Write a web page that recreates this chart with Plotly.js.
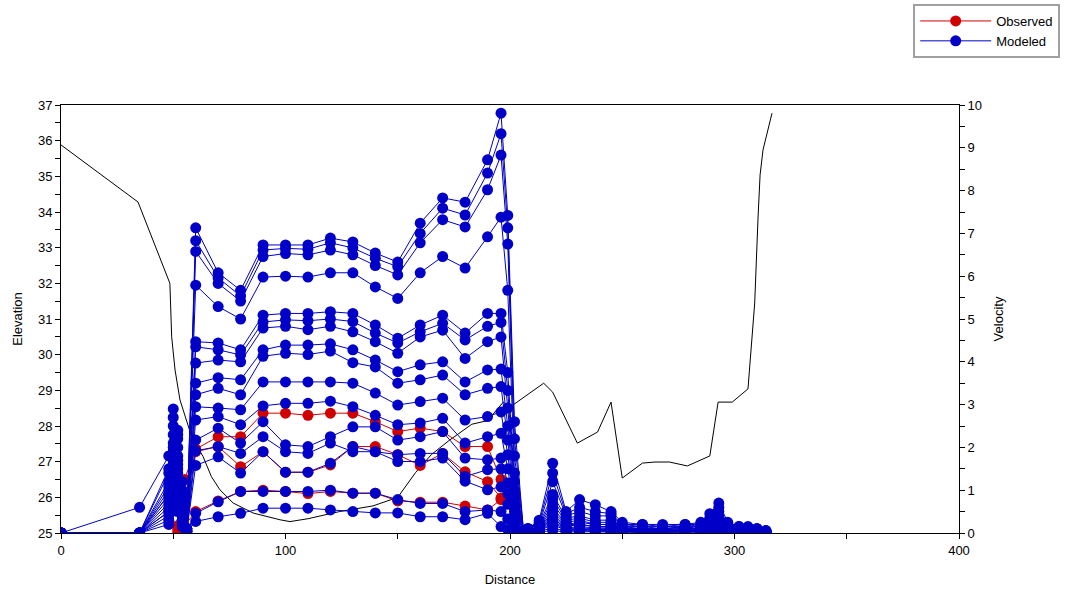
<!DOCTYPE html>
<html>
<head>
<meta charset="utf-8">
<script src="https://cdn.plot.ly/plotly-3.0.1.min.js"></script>
<style>
  html, body { margin: 0; padding: 0; background: #fff; }
  #chart { width: 1065px; height: 592px; }
</style>
</head>
<body>
<div id="chart"></div>
<script>
// cross-section stations (distance) shared by the modeled velocity profiles
const stations = [0, 35, 48, 50, 52, 54, 56, 60, 70, 80, 90, 100, 110, 120, 130, 140, 150, 160, 170, 180, 190, 196, 199,
    202, 206, 208, 213, 219, 225, 231, 238, 245, 250, 259, 268, 278, 285, 289, 293, 297, 302, 306, 310, 314];

// modeled velocities, one array per profile (right axis)
const vel01 = [0, 0.6, 1.8, 2.9, 2.4, 1.2, 0.1, 7.13, 6.08, 5.67, 6.73, 6.73, 6.73, 6.89, 6.80, 6.54, 6.33, 7.24, 7.83, 7.73, 8.72, 9.81, 7.42,
    2.6, 0.05, 0.1, 0.3, 1.63, 0.5, 0.78, 0.66, 0.5, 0.25, 0.2, 0.2, 0.2, 0.25, 0.45, 0.7, 0.25, 0.15, 0.15, 0.1, 0.05];
const vel02 = [0, 0, 1.5, 2.7, 2.3, 1.0, 0.1, 6.83, 5.96, 5.54, 6.61, 6.65, 6.63, 6.78, 6.66, 6.42, 6.22, 7.0, 7.59, 7.43, 8.41, 9.33, 7.13,
    2.2, 0.05, 0.1, 0.25, 1.4, 0.45, 0.6, 0.5, 0.45, 0.2, 0.2, 0.15, 0.2, 0.2, 0.35, 0.6, 0.2, 0.15, 0.1, 0.1, 0.05];
const vel03 = [0, 0, 1.4, 2.5, 2.2, 0.9, 0.1, 6.58, 5.83, 5.42, 6.46, 6.53, 6.5, 6.61, 6.5, 6.25, 6.03, 6.78, 7.32, 7.15, 8.02, 8.83, 6.75,
    1.8, 0.05, 0.1, 0.2, 1.2, 0.4, 0.5, 0.4, 0.4, 0.2, 0.15, 0.15, 0.15, 0.2, 0.3, 0.5, 0.2, 0.1, 0.1, 0.1, 0.05];
const vel04 = [0, 0, 1.2, 2.3, 2.0, 0.8, 0.1, 5.79, 5.29, 5.0, 5.98, 6.0, 5.98, 6.08, 6.08, 5.75, 5.48, 6.08, 6.46, 6.19, 6.92, 7.38, 5.67,
    1.4, 0.05, 0.1, 0.2, 0.9, 0.35, 0.4, 0.3, 0.3, 0.15, 0.15, 0.1, 0.15, 0.15, 0.25, 0.4, 0.15, 0.1, 0.1, 0.05, 0.05];
const vel05 = [0, 0, 1.1, 2.1, 1.8, 0.7, 0.1, 4.47, 4.44, 4.28, 5.09, 5.13, 5.13, 5.17, 5.13, 4.86, 4.55, 4.86, 5.09, 4.67, 5.13, 5.13, 3.75,
    1.2, 0.05, 0.05, 0.15, 0.8, 0.3, 0.35, 0.25, 0.25, 0.15, 0.1, 0.1, 0.15, 0.1, 0.2, 0.35, 0.15, 0.1, 0.05, 0.05, 0.02];
const vel06 = [0, 0, 1.0, 2.0, 1.7, 0.6, 0.1, 4.35, 4.28, 4.16, 4.93, 4.98, 4.96, 5.0, 4.94, 4.67, 4.44, 4.7, 4.9, 4.51, 4.83, 4.92, 3.33,
    1.0, 0.05, 0.05, 0.12, 0.7, 0.25, 0.3, 0.2, 0.2, 0.12, 0.1, 0.1, 0.1, 0.1, 0.15, 0.3, 0.12, 0.08, 0.05, 0.05, 0.02];
const vel07 = [0, 0, 0.9, 1.9, 1.6, 0.6, 0.1, 3.97, 4.04, 4.0, 4.79, 4.83, 4.75, 4.83, 4.7, 4.47, 4.2, 4.58, 4.74, 4.08, 4.47, 4.58, 2.92,
    0.9, 0.05, 0.05, 0.1, 0.6, 0.2, 0.25, 0.2, 0.2, 0.1, 0.1, 0.08, 0.1, 0.1, 0.12, 0.25, 0.1, 0.08, 0.05, 0.05, 0.02];
const vel08 = [0, 0, 0.9, 1.8, 1.5, 0.5, 0.05, 3.5, 3.63, 3.58, 4.28, 4.39, 4.39, 4.42, 4.28, 4.04, 3.77, 3.93, 4.0, 3.53, 3.81, 3.83, 2.5,
    0.8, 0.05, 0.05, 0.1, 0.5, 0.2, 0.2, 0.15, 0.15, 0.1, 0.08, 0.08, 0.1, 0.08, 0.1, 0.2, 0.1, 0.05, 0.05, 0.03, 0.02];
const vel09 = [0, 0, 0.8, 1.7, 1.4, 0.5, 0.05, 3.23, 3.38, 3.23, 4.13, 4.2, 4.17, 4.25, 3.98, 3.88, 3.5, 3.58, 3.69, 3.23, 3.38, 3.42, 2.17,
    0.7, 0.05, 0.05, 0.08, 0.45, 0.15, 0.2, 0.15, 0.15, 0.08, 0.08, 0.06, 0.08, 0.08, 0.1, 0.18, 0.08, 0.05, 0.04, 0.03, 0.02];
const vel10 = [0, 0, 0.7, 1.6, 1.3, 0.4, 0.05, 2.95, 2.92, 2.88, 3.53, 3.53, 3.53, 3.53, 3.5, 3.27, 2.99, 3.07, 3.15, 2.64, 2.72, 2.83, 1.83,
    0.6, 0.05, 0.04, 0.08, 0.4, 0.12, 0.15, 0.12, 0.12, 0.08, 0.06, 0.06, 0.07, 0.06, 0.08, 0.15, 0.07, 0.04, 0.04, 0.03, 0.02];
const vel11 = [0, 0, 0.6, 1.5, 1.2, 0.4, 0.05, 2.64, 2.72, 2.53, 2.97, 3.03, 3.03, 3.08, 2.95, 2.75, 2.53, 2.57, 2.68, 2.1, 2.25, 2.33, 1.5,
    0.5, 0.04, 0.04, 0.07, 0.35, 0.1, 0.12, 0.1, 0.1, 0.06, 0.05, 0.05, 0.06, 0.05, 0.07, 0.12, 0.06, 0.04, 0.03, 0.02, 0.02];
const vel12 = [0, 0, 0.5, 1.3, 1.1, 0.3, 0.05, 2.17, 2.45, 2.1, 2.6, 2.06, 2.02, 2.25, 2.48, 2.48, 2.17, 2.25, 2.37, 1.75, 1.71, 1.75, 1.17,
    0.4, 0.04, 0.03, 0.06, 0.3, 0.08, 0.1, 0.08, 0.08, 0.05, 0.04, 0.04, 0.05, 0.04, 0.06, 0.1, 0.05, 0.03, 0.03, 0.02, 0.01];
const vel13 = [0, 0, 0.5, 1.2, 1.0, 0.3, 0.04, 1.92, 2.02, 1.86, 2.25, 1.9, 1.86, 2.1, 1.9, 1.9, 1.83, 1.86, 1.86, 1.32, 1.48, 1.5, 0.92,
    0.35, 0.03, 0.03, 0.05, 0.25, 0.07, 0.08, 0.07, 0.07, 0.04, 0.04, 0.03, 0.04, 0.04, 0.05, 0.08, 0.04, 0.03, 0.02, 0.02, 0.01];
const vel14 = [0, 0, 0.4, 1.1, 0.9, 0.25, 0.04, 1.58, 1.78, 1.4, 1.9, 1.42, 1.42, 1.63, 2.02, 1.9, 1.67, 1.67, 1.75, 1.21, 1.01, 1.08, 0.67,
    0.3, 0.03, 0.03, 0.05, 0.2, 0.06, 0.07, 0.06, 0.06, 0.04, 0.03, 0.03, 0.04, 0.03, 0.04, 0.07, 0.04, 0.02, 0.02, 0.02, 0.01];
const vel15 = [0, 0, 0.3, 0.8, 0.6, 0.2, 0.03, 0.46, 0.73, 0.97, 0.97, 0.97, 0.97, 1.0, 0.93, 0.93, 0.78, 0.69, 0.69, 0.5, 0.54, 0.5, 0.33,
    0.2, 0.02, 0.02, 0.04, 0.12, 0.04, 0.05, 0.04, 0.04, 0.03, 0.02, 0.02, 0.03, 0.02, 0.03, 0.05, 0.03, 0.02, 0.01, 0.01, 0.01];
const vel16 = [0, 0, 0.2, 0.6, 0.5, 0.15, 0.02, 0.27, 0.38, 0.46, 0.58, 0.58, 0.58, 0.54, 0.5, 0.47, 0.47, 0.38, 0.38, 0.31, 0.46, 0.15, 0.08,
    0.05, 0.01, 0.01, 0.02, 0.06, 0.02, 0.03, 0.02, 0.02, 0.02, 0.01, 0.01, 0.02, 0.01, 0.02, 0.03, 0.02, 0.01, 0.01, 0.01, 0];

// observed velocities (right axis)
const obsStations = [52, 55, 60, 70, 80, 90, 100, 110, 120, 130, 140, 150, 160, 170, 180, 190, 196, 199];
const obsVel1 = [0.17, 1.25, 1.96, 2.25, 2.25, 2.8, 2.8, 2.75, 2.8, 2.8, 2.6, 2.37, 2.45, 2.37, 2.02, 2.02, 1.25, 0.79];
const obsVel2 = [0.08, 0.83, 1.9, 2.02, 1.55, 1.9, 1.42, 1.42, 1.59, 2.02, 2.02, 1.83, 1.58, 1.86, 1.43, 1.2, 0.82, 0.71];
const obsVel3 = [0, 0.17, 0.5, 0.75, 0.97, 1.0, 0.97, 0.92, 0.97, 0.93, 0.93, 0.75, 0.72, 0.72, 0.63, 0.54, 0.78, 0.75];

// channel bed profile (left axis)
const groundX = [0, 34.3, 48.5, 49.3, 50.8, 53, 58.2, 63.3, 67, 70.8, 76.7, 85.6, 97.6, 102, 110, 124, 139, 150, 158, 165,
    173, 183, 190, 197, 200, 215, 219, 230, 239, 245, 250, 259, 264.6, 271, 279, 289, 292.7, 299, 306, 307.8,
    309, 310.5, 311.4, 312.7, 316.7];
const groundElev = [35.88, 34.28, 32.0, 30.5, 29.57, 28.73, 27.7, 27.14, 26.58, 26.21, 25.84, 25.56, 25.37, 25.32, 25.4, 25.6, 25.76, 26.0, 26.7, 27.2,
    27.6, 28.05, 28.15, 28.67, 28.53, 29.2, 28.95, 27.52, 27.83, 28.67, 26.54, 26.96, 26.99, 26.99, 26.88, 27.16, 28.67, 28.67, 29.04, 30.4,
    31.45, 33.86, 35.04, 35.74, 36.77];

const modeledRuns = [vel01, vel02, vel03, vel04, vel05, vel06, vel07, vel08, vel09, vel10, vel11, vel12, vel13, vel14, vel15, vel16];
const observedRuns = [obsVel1, obsVel2, obsVel3];

const RED = '#d00000';
const BLUE = '#0000c8';
const FONT = 'Liberation Sans, Arial, sans-serif';

const observedTraces = observedRuns.map((v, i) => ({
    x: obsStations, y: v, yaxis: 'y2',
    mode: 'lines+markers', name: 'Observed', legendgroup: 'obs', showlegend: i === 0,
    line: { color: RED, width: 1 },
    marker: { color: RED, size: 11, symbol: 'circle' },
    hoverinfo: 'skip'
}));

const modeledTraces = modeledRuns.map((v, i) => ({
    x: stations, y: v, yaxis: 'y2',
    mode: 'lines+markers', name: 'Modeled', legendgroup: 'mod', showlegend: i === 0,
    line: { color: BLUE, width: 1 },
    marker: { color: BLUE, size: 11, symbol: 'circle' },
    hoverinfo: 'skip'
}));

const groundTrace = {
    x: groundX, y: groundElev, yaxis: 'y',
    mode: 'lines', name: 'Ground', showlegend: false,
    line: { color: '#000', width: 1 },
    hoverinfo: 'skip'
};

const axisCommon = {
    showline: true, linecolor: '#000', linewidth: 1,
    showgrid: false, zeroline: false,
    ticks: 'outside', ticklen: 5, tickcolor: '#000', tickwidth: 1,
    tickfont: { family: FONT, size: 13, color: '#000' },
    automargin: false
};

const layout = {
    width: 1065, height: 592,
    margin: { l: 61, r: 106, t: 105, b: 59, autoexpand: false },
    paper_bgcolor: '#fff', plot_bgcolor: '#fff',
    font: { family: FONT, size: 13, color: '#000' },
    xaxis: Object.assign({}, axisCommon, {
        range: [0, 400], tick0: 0, dtick: 100, mirror: true,
        minor: { dtick: 50, ticks: 'outside', ticklen: 5, tickcolor: '#000' },
        title: { text: 'Distance', font: { family: FONT, size: 13 }, standoff: 18 }
    }),
    yaxis: Object.assign({}, axisCommon, {
        range: [25, 37], tick0: 25, dtick: 1,
        minor: { dtick: 0.5, ticks: 'outside', ticklen: 5, tickcolor: '#000' },
        title: { text: 'Elevation', font: { family: FONT, size: 13 }, standoff: 12 }
    }),
    yaxis2: Object.assign({}, axisCommon, {
        range: [0, 10], tick0: 0, dtick: 1, overlaying: 'y', side: 'right',
        minor: { dtick: 0.5, ticks: 'outside', ticklen: 5, tickcolor: '#000' },
        title: { text: 'Velocity', font: { family: FONT, size: 13 }, standoff: 12 }
    }),
    legend: {
        x: 0.949, y: 1.236, xanchor: 'left', yanchor: 'top',
        bgcolor: '#fff', bordercolor: '#a0a0a0', borderwidth: 2,
        font: { family: FONT, size: 13, color: '#000' },
        itemwidth: 71, tracegroupgap: 0
    },
    showlegend: true
};

Plotly.newPlot('chart', [...observedTraces, ...modeledTraces, groundTrace], layout, { displayModeBar: false, staticPlot: true });
</script>
</body>
</html>
